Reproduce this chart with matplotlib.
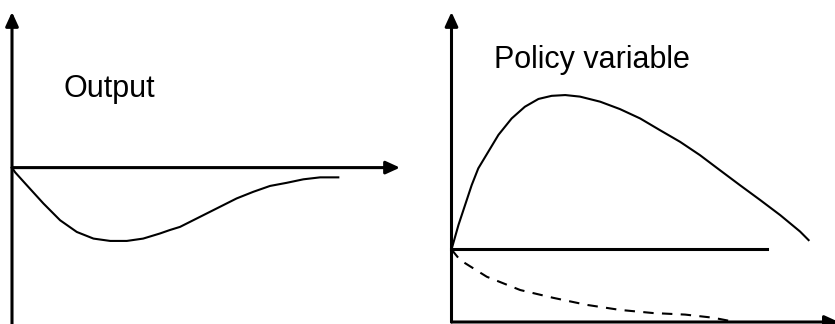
import matplotlib
matplotlib.use("Agg")
import matplotlib.pyplot as plt

# ---- data (time units, response units) ----
output_t = [0, 0.08, 0.38, 0.81, 1.24, 1.67, 2.10, 2.53, 2.96, 3.38, 3.81, 4.07,
            4.33, 4.93, 5.79, 6.22, 6.65, 7.08, 7.51, 7.94, 8.41]
output_y = [0, -0.12, -0.45, -0.92, -1.35, -1.65, -1.82, -1.88, -1.88, -1.82, -1.69,
            -1.60, -1.52, -1.22, -0.79, -0.62, -0.47, -0.39, -0.30, -0.25, -0.25]

policy_t = [0, 0.18, 0.35, 0.52, 0.69, 0.95, 1.21, 1.55, 1.89, 2.24, 2.58, 2.93,
            3.31, 3.83, 4.34, 4.86, 5.37, 5.89, 6.40, 6.92, 7.43, 7.95, 8.47, 8.98, 9.20]
policy_y = [0, 0.63, 1.14, 1.65, 2.08, 2.51, 2.94, 3.36, 3.66, 3.86, 3.94, 3.96,
            3.92, 3.79, 3.60, 3.36, 3.06, 2.76, 2.42, 2.03, 1.65, 1.27, 0.88, 0.46, 0.24]

base_t = [0, 8.13]
base_y = [0, 0]

dashed_t = [0, 0.22, 0.91, 1.77, 2.62, 3.48, 4.34, 5.19, 6.02, 6.74, 7.26]
dashed_y = [0, -0.27, -0.70, -1.04, -1.24, -1.42, -1.55, -1.63, -1.67, -1.75, -1.85]

titles = ["Output", "Policy variable"]

W, H = 835, 324
fig = plt.figure(figsize=(W / 100, H / 100), dpi=100)
fig.patch.set_facecolor("white")

FONT = "Liberation Sans"
arrow_kw = dict(arrowstyle="-|>,head_length=0.7,head_width=0.32", color="black",
                lw=2.2, shrinkA=0, shrinkB=0, mutation_scale=12)

# ---- left panel ----
axL = fig.add_axes([12 / W, 0, 388 / W, 312 / H])
axL.set_xlim(0, 10)
axL.set_ylim(-4.01, 3.99)
axL.axis("off")
axL.annotate("", xy=(0, 3.99), xytext=(0, -4.01), xycoords="data",
             arrowprops=arrow_kw, annotation_clip=False)
axL.annotate("", xy=(10, 0), xytext=(0, 0), xycoords="data",
             arrowprops=arrow_kw, annotation_clip=False)
axL.plot(output_t, output_y, color="black", lw=1.5, clip_on=False,
         solid_joinstyle="round")
fig.text(109 / W, 1 - 97 / H, titles[0], ha="center", va="baseline",
         fontsize=22, family=FONT)

# ---- right panel ----
axR = fig.add_axes([451.5 / W, 2 / H, 383.5 / W, 310 / H])
axR.set_xlim(0, 9.88)
axR.set_ylim(-1.86, 6.09)
axR.axis("off")
axR.annotate("", xy=(0, 6.09), xytext=(0, -1.86), xycoords="data",
             arrowprops=arrow_kw, annotation_clip=False)
axR.annotate("", xy=(9.98, -1.86), xytext=(0, -1.86), xycoords="data",
             arrowprops=arrow_kw, annotation_clip=False)
axR.plot(base_t, base_y, color="black", lw=2.2, clip_on=False)
axR.plot(policy_t, policy_y, color="black", lw=1.5, clip_on=False,
         solid_joinstyle="round")
axR.plot(dashed_t, dashed_y, color="black", lw=1.5, ls=(0, (5, 4)), clip_on=False)
fig.text(592 / W, 1 - 68 / H, titles[1], ha="center", va="baseline",
         fontsize=22, family=FONT)

fig.savefig("out.png", dpi=100, facecolor="white")
